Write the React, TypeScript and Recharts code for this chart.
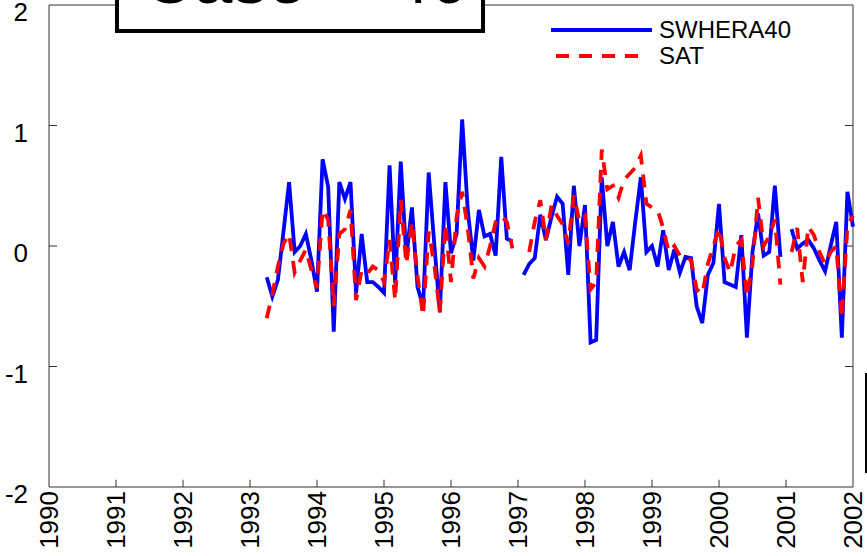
import React from 'react';
import { LineChart, Line, XAxis, YAxis, ReferenceLine } from 'recharts';

// monthly anomalies, first value is month 39 after Jan 1990 (April 1993)
const firstMonth = 39;

const swhera40 = [
  -0.26, -0.42, -0.28, 0.12, 0.53, -0.05, 0.0, 0.1, -0.12, -0.38, 0.72, 0.49,
  -0.71, 0.53, 0.39, 0.53, -0.39, 0.1, -0.3, -0.3, -0.34, -0.39, 0.67, -0.31,
  0.7, -0.09, 0.32, -0.34, -0.5, 0.61, 0.02, -0.55, 0.53, -0.06, 0.1, 1.05,
  0.3, -0.12, 0.3, 0.08, 0.1, -0.08, 0.74, 0.06, 0.04, null, -0.24, -0.15,
  -0.1, 0.26, 0.05, 0.24, 0.41, 0.35, -0.24, 0.5, 0.0, 0.34, -0.8, -0.78,
  0.57, 0.0, 0.2, -0.17, -0.05, -0.2, 0.2, 0.57, -0.05, 0.0, -0.17, 0.13,
  -0.2, -0.03, -0.22, -0.09, -0.1, -0.5, -0.64, -0.24, -0.14, 0.35, -0.3, -0.32,
  -0.34, 0.09, -0.76, -0.05, 0.27, -0.08, -0.05, 0.5, -0.09, null, 0.14, -0.02,
  0.02, 0.05, -0.02, -0.12, -0.21, 0.0, 0.2, -0.76, 0.45, 0.16,
];

const sat = [
  -0.6, -0.4, -0.17, 0.02, 0.1, -0.22, -0.12, -0.03, -0.2, -0.35, 0.3, 0.22,
  -0.5, 0.1, 0.14, 0.3, -0.45, -0.2, -0.23, -0.17, -0.2, -0.3, 0.05, -0.45,
  0.38, -0.15, 0.2, -0.25, -0.58, 0.12, -0.15, -0.55, 0.18, -0.3, 0.24, 0.45,
  0.15, -0.27, -0.1, -0.17, 0.0, 0.2, 0.25, 0.2, -0.02, null, null, -0.05,
  0.2, 0.38, 0.05, 0.34, 0.25, 0.18, 0.02, 0.42, 0.2, 0.25, -0.36, -0.3,
  0.8, 0.47, 0.5, 0.4, 0.55, 0.6, 0.65, 0.75, 0.35, 0.32, 0.3, 0.15,
  -0.05, 0.0, -0.08, -0.08, -0.12, -0.36, -0.4, -0.15, 0.0, 0.15, -0.1, -0.22,
  0.0, 0.05, -0.42, -0.15, 0.4, 0.0, 0.08, 0.22, -0.32, null, -0.05, 0.15,
  -0.3, 0.16, 0.09, -0.05, -0.15, -0.05, 0.0, -0.6, 0.17, 0.25,
];

const yearTicks = [1990, 1991, 1992, 1993, 1994, 1995, 1996, 1997, 1998, 1999, 2000, 2001, 2002];
const valueTicks = [-2, -1, 0, 1, 2];

const seriesList = [
  { key: 'swhera40', name: 'SWHERA40', color: '#0000ff', dash: undefined },
  { key: 'sat', name: 'SAT', color: '#ff0000', dash: '13 10' },
];

const chartData = swhera40.map((v, i) => ({
  t: 1990 + (firstMonth + i) / 12,
  swhera40: v,
  sat: sat[i],
}));

const font = '"Liberation Sans", Arial, Helvetica, sans-serif';
const axisColor = '#333';

const YearTick = ({ x, y, payload }: any) => (
  <text
    x={x}
    y={y}
    dy="0.35em"
    textAnchor="end"
    transform={`rotate(-90 ${x} ${y})`}
    fontSize={26}
    fontFamily={font}
    fill="#000"
  >
    {payload.value}
  </text>
);

const ValueTick = ({ x, y, payload }: any) => (
  <text x={x} y={y + 7} dy="0.35em" textAnchor="end" fontSize={26} fontFamily={font} fill="#000">
    {payload.value}
  </text>
);

const App = () => {
  return (
    <div style={{ position: 'absolute', left: 0, top: 0, width: 867, height: 556, overflow: 'hidden', background: '#fff' }}>
      <LineChart width={867} height={556} data={chartData} margin={{ top: 5, right: 14, left: 0, bottom: 0 }}>
        <XAxis
          dataKey="t"
          type="number"
          domain={[1990, 2002]}
          ticks={yearTicks}
          interval={0}
          height={69}
          tickLine={false}
          tickSize={0}
          tickMargin={4}
          tick={<YearTick />}
          axisLine={{ stroke: axisColor }}
        />
        <YAxis
          type="number"
          domain={[-2, 2]}
          ticks={valueTicks}
          interval={0}
          width={49}
          tickLine={false}
          tickSize={0}
          tickMargin={21}
          tick={<ValueTick />}
          axisLine={{ stroke: axisColor }}
        />
        <ReferenceLine y={2} stroke={axisColor} ifOverflow="visible" />
        <ReferenceLine x={2002} stroke={axisColor} ifOverflow="visible" />
        {yearTicks.slice(1, -1).map(yr => (
          <ReferenceLine key={'xt' + yr} segment={[{ x: yr, y: -2 }, { x: yr, y: -1.94 }]} stroke={axisColor} />
        ))}
        {valueTicks.slice(1, -1).map(v => (
          <ReferenceLine key={'yl' + v} segment={[{ x: 1990, y: v }, { x: 1990.12, y: v }]} stroke={axisColor} />
        ))}
        {valueTicks.slice(1, -1).map(v => (
          <ReferenceLine key={'yr' + v} segment={[{ x: 2001.88, y: v }, { x: 2002, y: v }]} stroke={axisColor} />
        ))}
        {seriesList.map(s => (
          <Line
            key={s.key}
            dataKey={s.key}
            name={s.name}
            type="linear"
            stroke={s.color}
            strokeWidth={3.8}
            strokeDasharray={s.dash}
            dot={false}
            activeDot={false}
            connectNulls={false}
            isAnimationActive={false}
          />
        ))}
      </LineChart>

      {/* title box, only its lower edge is on the page */}
      <svg style={{ position: 'absolute', left: 113, top: 0 }} width={374} height={36}>
        <rect x={4} y={-20} width={366} height={51} fill="#fff" stroke="#000" strokeWidth={4} />
        <text x={30} y={3} fontFamily={font} fontSize={70} fill="#000">
          Case
          <tspan x={278}>40</tspan>
        </text>
      </svg>

      {/* legend */}
      <div style={{ position: 'absolute', left: 551, top: 17, fontFamily: font, fontSize: 24 }}>
        {seriesList.map(s => (
          <div key={s.key} style={{ display: 'flex', alignItems: 'center', height: 26 }}>
            <svg width={101} height={8} style={{ display: 'block' }}>
              <line
                x1={s.dash ? 5 : 0}
                y1={4}
                x2={s.dash ? 90 : 101}
                y2={4}
                stroke={s.color}
                strokeWidth={4}
                strokeDasharray={s.dash}
              />
            </svg>
            <span style={{ marginLeft: 7, lineHeight: '26px' }}>{s.name}</span>
          </div>
        ))}
      </div>

      {/* edge of a neighbouring panel */}
      <div style={{ position: 'absolute', left: 865, top: 373, width: 2, height: 100, background: '#000' }} />
    </div>
  );
};

export default App;
